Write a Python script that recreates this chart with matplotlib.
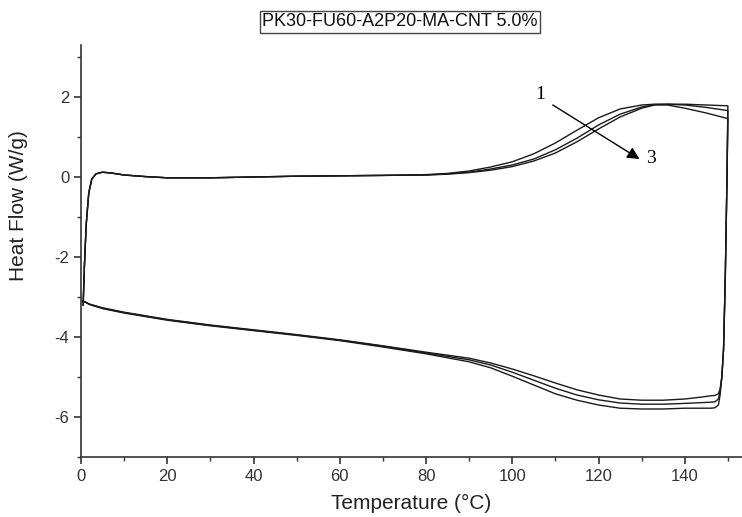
import matplotlib
matplotlib.use("Agg")
import matplotlib.pyplot as plt
from matplotlib import font_manager
from matplotlib.ticker import MultipleLocator

# heating segment (same temperatures for all three cycles)
t_heat = [0.5, 0.8, 1.2, 1.8, 2.5, 3.5, 5, 7, 10, 15, 20, 30, 40, 50, 60, 70, 80,
          85, 90, 95, 100, 105, 110, 115, 120, 125, 130, 133, 136, 140, 145, 150]
hf_heat1 = [-3.2, -2.2, -1.2, -0.4, -0.05, 0.08, 0.12, 0.1, 0.05, 0.01, -0.02, -0.02,
            0.0, 0.02, 0.03, 0.04, 0.06, 0.09, 0.15, 0.25, 0.38, 0.58, 0.85, 1.17,
            1.48, 1.7, 1.8, 1.82, 1.82, 1.82, 1.8, 1.78]
hf_heat2 = [-3.2, -2.2, -1.2, -0.4, -0.05, 0.08, 0.12, 0.1, 0.05, 0.01, -0.02, -0.02,
            0.0, 0.02, 0.03, 0.04, 0.05, 0.08, 0.12, 0.2, 0.3, 0.45, 0.68, 0.97,
            1.3, 1.57, 1.75, 1.81, 1.82, 1.8, 1.74, 1.66]
hf_heat3 = [-3.2, -2.2, -1.2, -0.4, -0.05, 0.08, 0.12, 0.1, 0.05, 0.01, -0.02, -0.02,
            0.0, 0.02, 0.03, 0.04, 0.05, 0.07, 0.11, 0.17, 0.26, 0.4, 0.6, 0.88,
            1.2, 1.5, 1.72, 1.8, 1.8, 1.72, 1.6, 1.46]

# cooling segment, from 150 down to 0
t_cool = [150, 149.8, 149.4, 149.0, 148.6, 148.2, 147.8, 147, 146, 144, 140, 135,
          130, 125, 120, 115, 110, 105, 100, 95, 90, 80, 70, 60, 50, 40, 30, 20,
          10, 5, 2, 0.5]
hf_cool1 = [1.78, 0.0, -2.5, -4.3, -5.0, -5.3, -5.42, -5.46, -5.47, -5.5, -5.55, -5.58,
            -5.58, -5.55, -5.45, -5.32, -5.15, -4.97, -4.8, -4.65, -4.53, -4.38,
            -4.22, -4.07, -3.94, -3.82, -3.7, -3.56, -3.38, -3.27, -3.18, -3.1]
hf_cool2 = [1.66, 0.0, -2.5, -4.3, -5.0, -5.35, -5.55, -5.62, -5.63, -5.64, -5.66, -5.68,
            -5.68, -5.65, -5.57, -5.45, -5.28, -5.08, -4.88, -4.7, -4.57, -4.4,
            -4.23, -4.08, -3.95, -3.83, -3.71, -3.57, -3.39, -3.28, -3.18, -3.1]
hf_cool3 = [1.46, 0.0, -2.5, -4.3, -5.0, -5.45, -5.7, -5.77, -5.78, -5.78, -5.78, -5.8,
            -5.8, -5.78, -5.7, -5.58, -5.42, -5.2, -4.98, -4.77, -4.62, -4.42,
            -4.25, -4.09, -3.96, -3.84, -3.72, -3.58, -3.4, -3.29, -3.19, -3.1]

title = "PK30-FU60-A2P20-MA-CNT 5.0%"

names = {f.name for f in font_manager.fontManager.ttflist}
sans = "Liberation Sans Narrow" if "Liberation Sans Narrow" in names else "Liberation Sans"
plt.rcParams["font.family"] = [sans, "DejaVu Sans"]
plt.rcParams["axes.unicode_minus"] = False

fig = plt.figure(figsize=(7.42, 5.17), dpi=100)
ax = fig.add_axes([81 / 742, 60 / 517, 690 / 742, 412 / 517])

for hh, hc in [(hf_heat1, hf_cool1), (hf_heat2, hf_cool2), (hf_heat3, hf_cool3)]:
    ax.plot(t_heat + t_cool, hh + hc, color="#1a1a1a", lw=1.0)

ax.set_xlim(0, 160)
ax.set_ylim(-7, 3.3)
ax.xaxis.set_minor_locator(MultipleLocator(10))
ax.yaxis.set_major_locator(MultipleLocator(2))
ax.yaxis.set_minor_locator(MultipleLocator(1))
ax.set_xticks([0, 20, 40, 60, 80, 100, 120, 140])
ax.spines["top"].set_visible(False)
ax.spines["right"].set_visible(False)
for s in ("left", "bottom"):
    ax.spines[s].set_linewidth(1.2)
    ax.spines[s].set_color("#333333")
ax.tick_params(which="both", direction="out", colors="#333333", labelcolor="#333333",
               labelsize=12)
ax.tick_params(which="major", length=5, width=1.2)
ax.tick_params(which="minor", length=3, width=1.0)

ax.set_xlabel("Temperature (°C)", fontsize=15, color="#222222")
ax.set_ylabel("Heat Flow (W/g)", fontsize=15, color="#222222")
ax.xaxis.set_label_coords((411 - 81) / 690, -0.09)
ax.yaxis.set_label_coords((28 - 81) / 690, 0.61)

# cycle annotation
ax.annotate("", xy=(129.5, 0.45), xytext=(109.4, 1.8),
            arrowprops=dict(arrowstyle="-|>", color="black", lw=1.0,
                            mutation_scale=18, shrinkA=0, shrinkB=0))
ax.text(106.5, 2.05, "1", family="Liberation Serif", fontsize=14, ha="center", va="center")
ax.text(132.2, 0.45, "3", family="Liberation Serif", fontsize=14, ha="center", va="center")

fig.text(400 / 742, 1 - 22 / 517, title, fontsize=13, ha="center", va="center",
         color="#111111",
         bbox=dict(boxstyle="square,pad=0.15", fc="white", ec="#444444", lw=1.0))

fig.savefig("out.png", dpi=100)
